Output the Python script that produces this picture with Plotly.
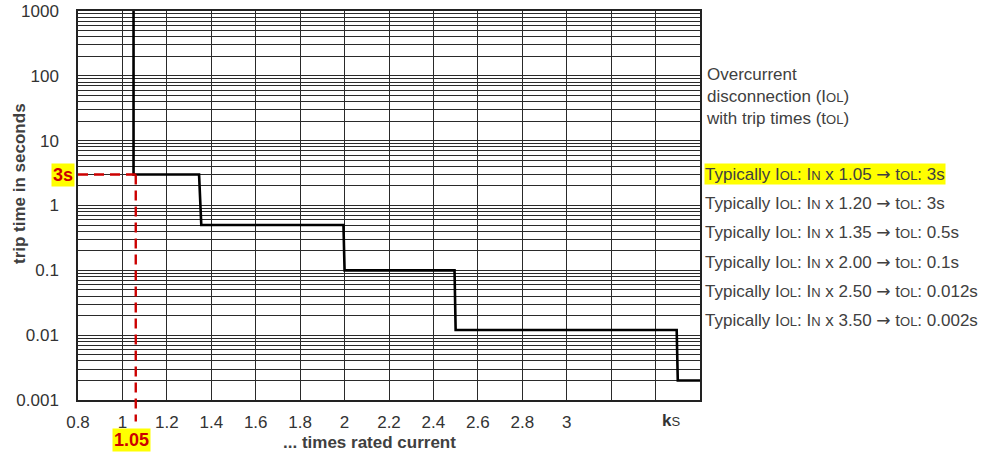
import plotly.graph_objects as go
import numpy as np

# ---- data ----
step_x = [1.05, 1.05, 1.345, 1.355, 1.995, 2.0, 2.495, 2.5, 3.495, 3.5, 3.6]
step_y = [1000, 3, 3, 0.5, 0.5, 0.1, 0.1, 0.012, 0.012, 0.002, 0.002]

x_tick_vals = [0.8, 1.0, 1.2, 1.4, 1.6, 1.8, 2.0, 2.2, 2.4, 2.6, 2.8, 3.0, 3.2, 3.4]
x_tick_text = ["0.8", "1", "1.2", "1.4", "1.6", "1.8", "2", "2.2", "2.4", "2.6", "2.8", "3", "", ""]
y_decades = [0.001, 0.01, 0.1, 1, 10, 100, 1000]
y_decade_text = ["0.001", "0.01", "0.1", "1", "10", "100", "1000"]

marker_x = 1.06       # highlighted current multiple (dashed guide)
marker_y = 3          # highlighted trip time
marker_x_label = "1.05"
marker_y_label = "3s"
ks_x = 3.47

SM = "<span style='font-size:13px'>%s</span>"
ARROW = "<span style='font-family:DejaVu Sans'>\u2192</span>"
heading = ("Overcurrent<br>disconnection (I" + SM % "OL" + ")<br>with trip times (t" + SM % "OL" + ")")
multiples = ["1.05", "1.20", "1.35", "2.00", "2.50", "3.50"]
trip_times = ["3s", "3s", "0.5s", "0.1s", "0.012s", "0.002s"]

# ---- ticks (all log minor positions get grid lines) ----
y_tick_vals, y_tick_text = [], []
for d, t in zip(y_decades, y_decade_text):
    y_tick_vals.append(d)
    y_tick_text.append(t)
    if d < 1000:
        for m in range(2, 10):
            y_tick_vals.append(d * m)
            y_tick_text.append("")

fig = go.Figure()
fig.add_trace(go.Scatter(x=step_x, y=step_y, mode="lines",
                         line=dict(color="black", width=2.6), showlegend=False,
                         hoverinfo="skip"))

RED = "#CC0000"
dash = "10px,6px"
# horizontal dashed guide
fig.add_shape(type="line", xref="x", yref="y", x0=0.8, x1=marker_x, y0=marker_y, y1=marker_y,
              line=dict(color=RED, width=2.4, dash=dash), layer="above")
# vertical dashed guide (extends below the axis)
y_frac = (np.log10(marker_y) + 3) / 6
fig.add_shape(type="line", xref="x", yref="paper", x0=marker_x, x1=marker_x, y0=y_frac, y1=-0.055,
              line=dict(color=RED, width=2.4, dash=dash), layer="above")

GREY = "#404040"
FONT = "Liberation Sans, Arial, sans-serif"
ann = []
ann.append(dict(text="<b>%s</b>" % marker_y_label, xref="paper", yref="y", x=0, y=np.log10(marker_y),
                xanchor="right", yanchor="middle", xshift=-3, showarrow=False,
                bgcolor="#FFFF00", font=dict(color=RED, size=18, family=FONT), borderpad=1))
ann.append(dict(text="<b>%s</b>" % marker_x_label, xref="x", yref="paper", x=1.05, y=-(428 - 400) / 389,
                xanchor="center", yanchor="top", xshift=-2, showarrow=False,
                bgcolor="#FFFF00", font=dict(color=RED, size=18, family=FONT), borderpad=1))
ann.append(dict(text="<b>k</b>" + SM % "S", xref="x", yref="paper", x=ks_x, y=-(420 - 400) / 389,
                xanchor="center", yanchor="middle", showarrow=False,
                font=dict(color="#333333", size=17, family=FONT)))
ann.append(dict(text="<b>... times rated current</b>", xref="paper", yref="paper",
                x=(369 - 78) / 622, y=-(442 - 400) / 389, xanchor="center", yanchor="middle",
                showarrow=False, font=dict(color=GREY, size=17, family=FONT)))
ann.append(dict(text="<b>trip time in seconds</b>", xref="paper", yref="paper", textangle=-90,
                x=(20 - 78) / 622, y=(400 - 184) / 389, xanchor="center", yanchor="middle",
                showarrow=False, font=dict(color=GREY, size=17, family=FONT)))
ann.append(dict(text=heading, xref="paper", yref="paper", x=1, xshift=4, y=(400 - 96) / 389,
                xanchor="left", yanchor="middle", align="left", showarrow=False,
                font=dict(color=GREY, size=17, family=FONT)))
line_px = [174, 203, 232, 262, 291, 320]
for i, (m, t) in enumerate(zip(multiples, trip_times)):
    txt = ("Typically I" + SM % "OL" + ": I" + SM % "N" + " x " + m + " " + ARROW +
           " t" + SM % "OL" + ": " + t)
    ann.append(dict(text=txt, xref="paper", yref="paper", x=1, xshift=4, y=(400 - line_px[i]) / 389,
                    xanchor="left", yanchor="middle", align="left", showarrow=False,
                    bgcolor="#FFFF00" if i == 0 else "rgba(0,0,0,0)", borderpad=0,
                    font=dict(color=GREY, size=17, family=FONT)))

fig.update_layout(
    width=988, height=455,
    margin=dict(l=78, r=288, t=11, b=55),
    paper_bgcolor="white", plot_bgcolor="white",
    font=dict(family=FONT, size=17, color="#333333"),
    annotations=ann,
    showlegend=False,
)
fig.update_xaxes(range=[0.8, 3.6], tickmode="array", tickvals=x_tick_vals, ticktext=x_tick_text,
                 showgrid=True, gridcolor="#2a2a2a", gridwidth=1.2, zeroline=False,
                 showline=True, linecolor="#222222", linewidth=1.5, mirror=True, automargin=False,
                 ticks="", ticklabelstandoff=6, tickfont=dict(size=17, color="#333333"))
fig.update_yaxes(type="log", range=[-3, 3], tickmode="array", tickvals=y_tick_vals, ticktext=y_tick_text,
                 showgrid=True, gridcolor="#2a2a2a", gridwidth=1.2, zeroline=False,
                 showline=True, linecolor="#222222", linewidth=1.5, mirror=True, automargin=False,
                 ticks="", ticklabelstandoff=14, tickfont=dict(size=17, color="#333333"))

fig.write_html("out.html", config={"displayModeBar": False},
               post_script="document.body.style.margin='0';document.body.style.overflow='hidden';")
